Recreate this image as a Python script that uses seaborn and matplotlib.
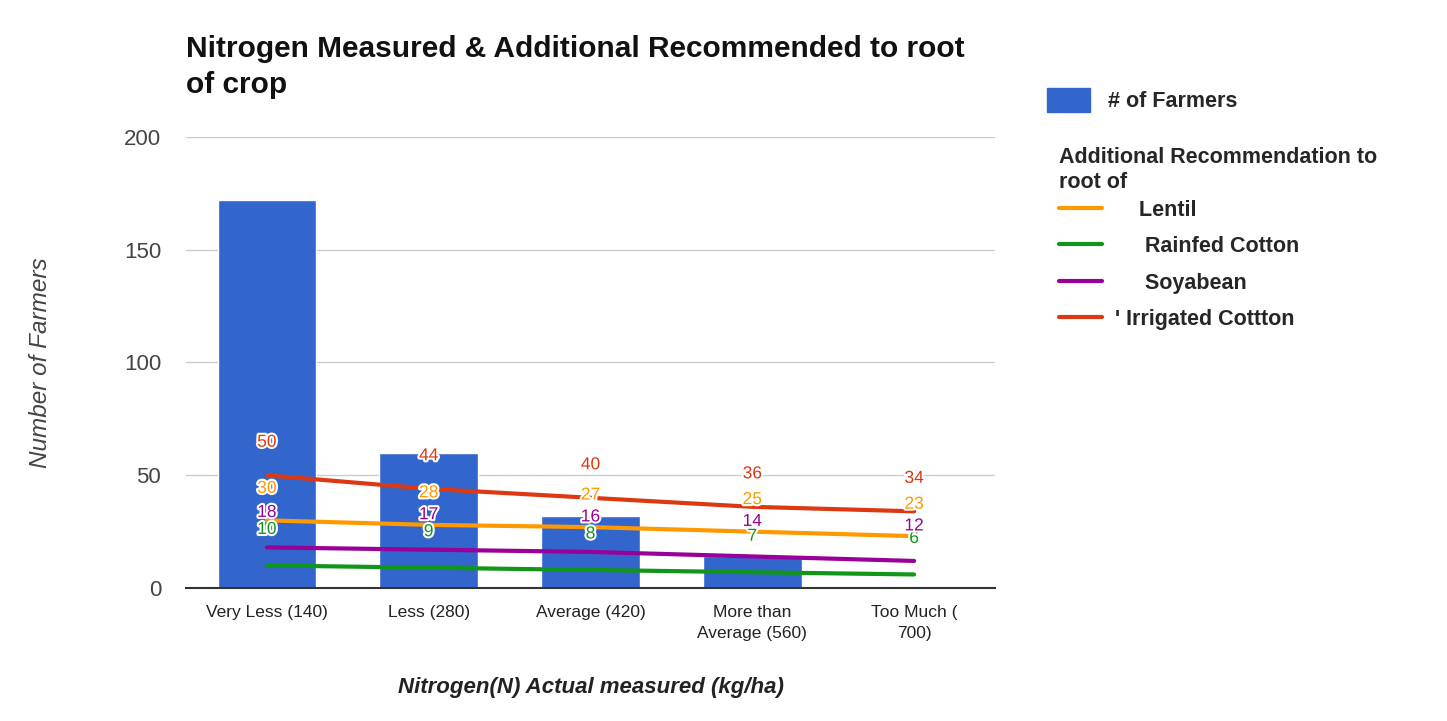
import numpy as np
import pandas as pd
import matplotlib.pyplot as plt
import matplotlib.patheffects as pe
from matplotlib.lines import Line2D
from matplotlib.patches import Patch
import seaborn as sns

categories = ['Very Less (140)', 'Less (280)', 'Average (420)',
              'More than\nAverage (560)', 'Too Much (\n700)']
farmers = [172, 60, 32, 14, 1]

crops = ['Lentil', 'Rainfed Cotton', 'Soyabean', 'Irrigated Cottton']
lentil = [30, 28, 27, 25, 23]
rainfed_cotton = [10, 9, 8, 7, 6]
soyabean = [18, 17, 16, 14, 12]
irrigated_cotton = [50, 44, 40, 36, 34]

legend_labels = ['    Lentil', '     Rainfed Cotton', '     Soyabean', "' Irrigated Cottton"]
colors = {'Lentil': '#ff9900', 'Rainfed Cotton': '#109618',
          'Soyabean': '#990099', 'Irrigated Cottton': '#dc3912'}

sns.set_style('white')
plt.rcParams['font.family'] = ['Liberation Sans', 'DejaVu Sans']

bars = pd.DataFrame({'category': categories, 'farmers': farmers})
pos = np.arange(len(categories))
lines = pd.DataFrame({
    'pos': np.tile(pos, len(crops)),
    'crop': np.repeat(crops, len(categories)),
    'value': lentil + rainfed_cotton + soyabean + irrigated_cotton,
})

fig = plt.figure(figsize=(14.47, 7.21), dpi=100)
ax = fig.add_axes([186 / 1447, 1 - 588 / 721, 809 / 1447, 451 / 721])

sns.barplot(data=bars, x='category', y='farmers', color='#3366cc',
            saturation=1, width=0.61, ax=ax, zorder=2)
sns.lineplot(data=lines, x='pos', y='value', hue='crop', palette=colors,
             linewidth=3, legend=False, ax=ax, zorder=3)

# data labels above each line point
offsets = {'Lentil': 32, 'Rainfed Cotton': 36, 'Soyabean': 35, 'Irrigated Cottton': 33}
for crop in crops:
    sub = lines[lines['crop'] == crop]
    for x, v in zip(sub['pos'], sub['value']):
        ax.annotate(str(v), (x, v), xytext=(0, offsets[crop]), textcoords='offset pixels',
                    ha='center', va='center', fontsize=12.5, color=colors[crop], zorder=5,
                    path_effects=[pe.withStroke(linewidth=3, foreground='white')])

ax.set_ylim(0, 200)
ax.set_xlim(-0.5, len(categories) - 0.5)
ax.set_yticks([0, 50, 100, 150, 200])
ax.tick_params(axis='y', labelsize=16, labelcolor='#444444', length=0, pad=18)
ax.tick_params(axis='x', labelsize=12.5, labelcolor='#222222', length=0, pad=12)
for lab in ax.get_xticklabels():
    lab.set_linespacing(1.55)
ax.grid(axis='y', color='#cccccc', linewidth=1, zorder=0)
ax.set_axisbelow(True)
sns.despine(ax=ax, left=True, right=True, top=True)
ax.spines['bottom'].set_color('#333333')
ax.spines['bottom'].set_linewidth(1.5)

ax.set_ylabel('Number of Farmers', fontsize=17.5, style='italic', color='#444444', labelpad=52)
ax.set_xlabel('Nitrogen(N) Actual measured (kg/ha)', fontsize=16, style='italic',
              fontweight='bold', color='#222222', labelpad=26)

fig.text(186 / 1447, 1 - 67 / 721, 'Nitrogen Measured & Additional Recommended to root\nof crop',
         fontsize=21.5, fontweight='bold', color='#111111', ha='left', va='center',
         linespacing=1.4)

# legends
leg1 = fig.legend(handles=[Patch(color='#3366cc')], labels=['# of Farmers'],
                  loc='upper left', bbox_to_anchor=(1028 / 1447, 1 - 69 / 721),
                  frameon=False, prop={'size': 15.5, 'weight': 'bold'},
                  handlelength=2.0, handleheight=1.3, handletextpad=0.8)
line_handles = [Line2D([], [], color=colors[c], linewidth=3) for c in crops]
leg2 = fig.legend(handles=line_handles, labels=legend_labels,
                  loc='upper left', bbox_to_anchor=(1040 / 1447, 1 - 128 / 721),
                  frameon=False, prop={'size': 15.5, 'weight': 'bold'},
                  title='Additional Recommendation to\nroot of',
                  title_fontproperties={'size': 15.5, 'weight': 'bold'},
                  alignment='left', handlelength=2.0, handletextpad=0.6,
                  labelspacing=0.72)
leg2._legend_box.sep = 5

fig.savefig('out.png', dpi=100)
